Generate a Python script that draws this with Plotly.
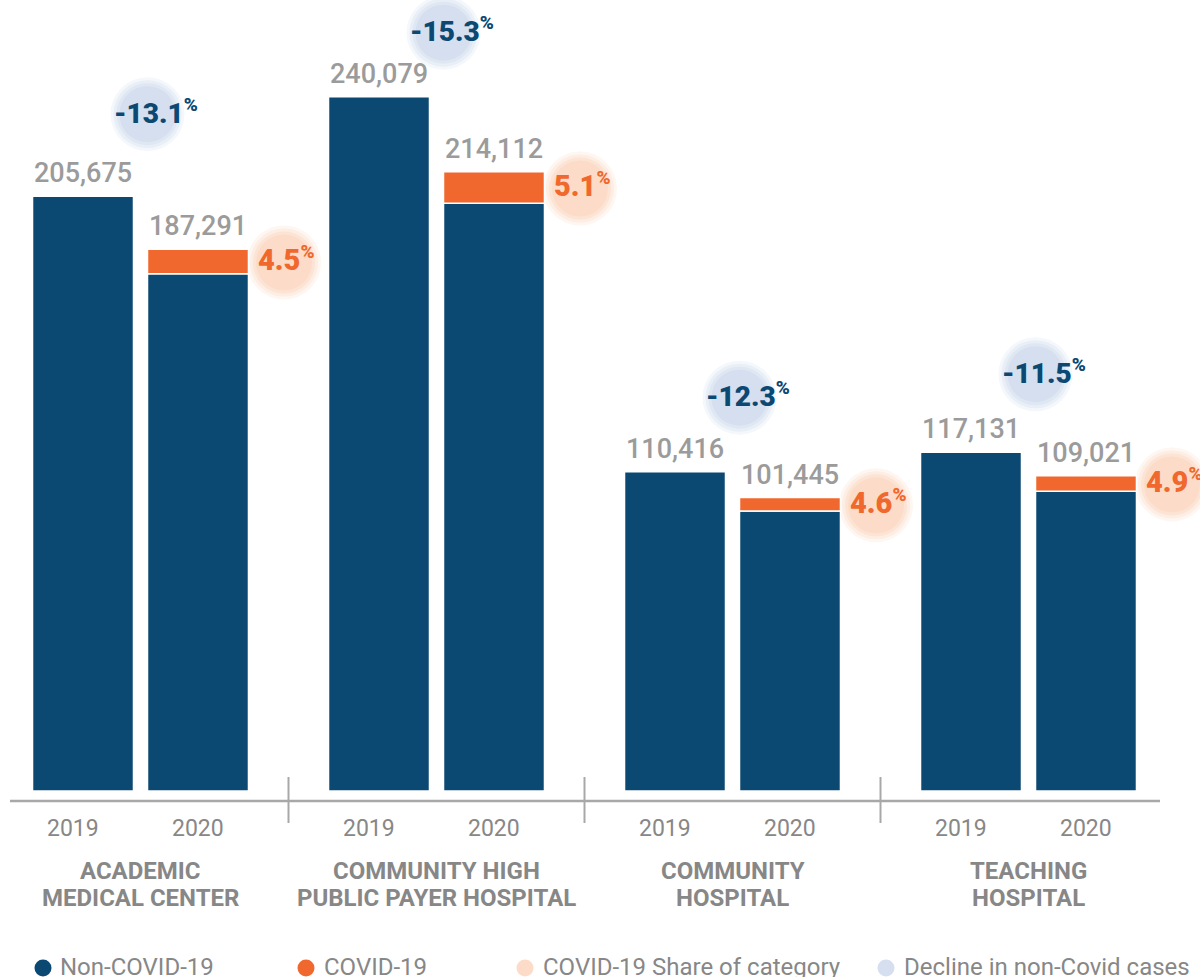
import plotly.graph_objects as go

# ---------------- data ----------------
categories = ["ACADEMIC MEDICAL CENTER", "COMMUNITY HIGH PUBLIC PAYER HOSPITAL",
              "COMMUNITY HOSPITAL", "TEACHING HOSPITAL"]
category_lines = [["ACADEMIC", "MEDICAL CENTER"],
                  ["COMMUNITY HIGH", "PUBLIC PAYER HOSPITAL"],
                  ["COMMUNITY", "HOSPITAL"],
                  ["TEACHING", "HOSPITAL"]]
years = ["2019", "2020"]
total_2019 = [205675, 240079, 110416, 117131]
total_2020 = [187291, 214112, 101445, 109021]
non_covid_2020 = [178863, 203192, 96779, 103679]
covid_2020 = [8428, 10920, 4666, 5342]
covid_share = ["4.5", "5.1", "4.6", "4.9"]
decline_non_covid = ["-13.1", "-15.3", "-12.3", "-11.5"]

# ---------------- style ----------------
W, H = 1200, 977
NAVY = "#0b4872"
ORANGE = "#f0682d"
PEACH = "#fcdcc8"
LIGHTBLUE = "#d5dfef"
GRAY_VAL = "#9b9b9b"
GRAY_TXT = "#878787"
LINE_GRAY = "#a8a8a8"
FONT = "Roboto"

base_px = 791                 # pixel row of value 0
units_per_px = 129663 / 375   # vertical scale
pitch_px = 296                # pixels per category
first_center_px = 140.5
slot_px = 57.5                # offset of each year bar from category centre

def py(p):  # pixel row -> paper y
    return 1 - p / H

def px(p):  # pixel column -> paper x
    return p / W

fig = go.Figure()
bar_line = dict(color="white", width=1.5)
fig.add_trace(go.Bar(x=categories, y=total_2019, offsetgroup="2019", name="2019",
                     marker=dict(color=NAVY, line=bar_line), showlegend=False))
fig.add_trace(go.Bar(x=categories, y=non_covid_2020, offsetgroup="2020", name="Non-COVID-19",
                     marker=dict(color=NAVY, line=bar_line), showlegend=False))
fig.add_trace(go.Bar(x=categories, y=covid_2020, base=non_covid_2020, offsetgroup="2020",
                     name="COVID-19", marker=dict(color=ORANGE, line=bar_line), showlegend=False))

shapes = []
annotations = []

def soft_circle(xanchor, yanchor, cx, cy, r, color, xref="x", yref="y"):
    for rr, op in [(r + 6, 0.25), (r + 3, 0.35), (r, 0.5), (r - 3, 1.0)]:
        shapes.append(dict(type="circle", xref=xref, yref=yref,
                           xsizemode="pixel", ysizemode="pixel",
                           xanchor=xanchor, yanchor=yanchor,
                           x0=cx - rr, x1=cx + rr, y0=cy - rr, y1=cy + rr,
                           fillcolor=color, opacity=op, line=dict(width=0),
                           layer="below"))

decline_lift = [85, 67, 77, 81]

for i in range(len(categories)):
    # value labels
    annotations.append(dict(x=i, y=total_2019[i], xref="x", yref="y", xshift=-slot_px, yshift=23,
                            text=f"{total_2019[i]:,}", showarrow=False, yanchor="middle",
                            font=dict(family=FONT, size=27, color=GRAY_VAL, weight=500)))
    annotations.append(dict(x=i, y=total_2020[i], xref="x", yref="y", xshift=slot_px, yshift=23,
                            text=f"{total_2020[i]:,}", showarrow=False, yanchor="middle",
                            font=dict(family=FONT, size=27, color=GRAY_VAL, weight=500)))
    # decline bubble
    lift = decline_lift[i]
    soft_circle(i, total_2019[i], 7, lift - 3, 31, LIGHTBLUE)
    annotations.append(dict(x=i, y=total_2019[i], xref="x", yref="y", xshift=15, yshift=lift,
                            text=f"{decline_non_covid[i]}<sup><span style='font-size:19px'>%</span></sup>",
                            showarrow=False, yanchor="middle",
                            font=dict(family=FONT, size=28, color=NAVY, weight=900)))
    # share bubble
    seg_mid = non_covid_2020[i] + covid_2020[i] / 2
    soft_circle(i, seg_mid, slot_px + 86, -1, 31, PEACH)
    annotations.append(dict(x=i, y=seg_mid, xref="x", yref="y", xshift=slot_px + 88, yshift=3,
                            text=f"{covid_share[i]}<sup><span style='font-size:19px'>%</span></sup>",
                            showarrow=False, yanchor="middle",
                            font=dict(family=FONT, size=29, color=ORANGE, weight=900)))
    # year labels
    for yr, sh in zip(years, [-slot_px - 10, slot_px]):
        annotations.append(dict(x=i, y=py(828), xref="x", yref="paper", xshift=sh,
                                text=yr, showarrow=False, yanchor="middle",
                                font=dict(family=FONT, size=23, color=GRAY_TXT)))
    # group labels
    for line, prow in zip(category_lines[i], [871, 898]):
        annotations.append(dict(x=i, y=py(prow), xref="x", yref="paper",
                                text=line, showarrow=False, yanchor="middle",
                                font=dict(family=FONT, size=24, color=GRAY_TXT, weight=700)))

# axis baseline and dividers
shapes.append(dict(type="line", xref="paper", yref="paper", x0=px(10), x1=px(1160),
                   y0=py(801), y1=py(801), line=dict(color=LINE_GRAY, width=2.5)))
for b in [0.5, 1.5, 2.5]:
    shapes.append(dict(type="line", xref="x", yref="paper", x0=b, x1=b,
                       y0=py(823), y1=py(777), line=dict(color=LINE_GRAY, width=2)))

# legend
legend_items = [("Non-COVID-19", NAVY, 43, 58), ("COVID-19", ORANGE, 306, 322),
                ("COVID-19 Share of category", PEACH, 525, 541),
                ("Decline in non-Covid cases", LIGHTBLUE, 886, 902)]
for label, col, dot_x, text_x in legend_items:
    r = 8.5
    shapes.append(dict(type="circle", xref="paper", yref="paper",
                       x0=px(dot_x - r), x1=px(dot_x + r), y0=py(968 + r), y1=py(968 - r),
                       fillcolor=col, line=dict(width=0)))
    annotations.append(dict(x=px(text_x), y=py(967), xref="paper", yref="paper",
                            text=label, showarrow=False, xanchor="left", yanchor="middle",
                            font=dict(family=FONT, size=24, color=GRAY_TXT)))

fig.update_layout(
    width=W, height=H, autosize=False,
    margin=dict(l=0, r=0, t=0, b=0, pad=0),
    paper_bgcolor="white", plot_bgcolor="white",
    barmode="group", bargap=0.223, bargroupgap=0.122,
    xaxis=dict(range=[-first_center_px / pitch_px, (W - first_center_px) / pitch_px],
               showticklabels=False, showgrid=False, zeroline=False, showline=False, ticks=""),
    yaxis=dict(range=[-(H - base_px) * units_per_px, base_px * units_per_px],
               visible=False, showgrid=False, zeroline=False),
    shapes=shapes, annotations=annotations, showlegend=False,
    font=dict(family=FONT),
)

fig.write_html(
    "out.html",
    config={"displayModeBar": False},
    post_script=("document.documentElement.style.margin='0';"
                 "document.documentElement.style.overflow='hidden';"
                 "document.body.style.margin='0';document.body.style.padding='0';"
                 "document.body.style.overflow='hidden';"),
)
